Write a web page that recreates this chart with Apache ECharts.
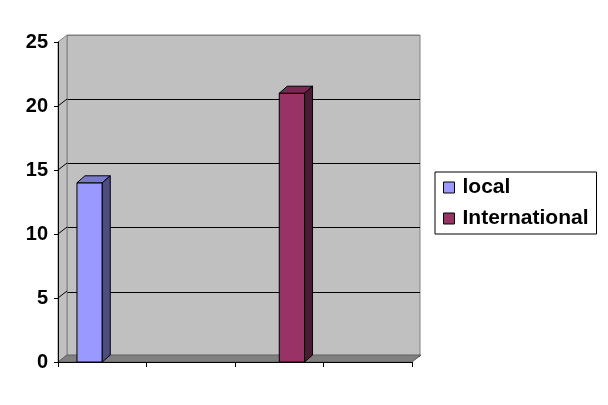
<!DOCTYPE html>
<html>
<head>
<meta charset="utf-8">
<script src="https://cdn.jsdelivr.net/npm/echarts@6/dist/echarts.min.js"></script>
<style>
  html, body { margin: 0; padding: 0; background: #fff; }
  #chart { width: 608px; height: 405px; }
</style>
</head>
<body>
<div id="chart"></div>
<script>
// chart data
var categories = ['A', 'B', 'C', 'D'];
var local = [14, null, null, null];
var international = [null, null, 21, null];
var yTicks = [0, 5, 10, 15, 20, 25];

var DX = 9, DY = -7;     // wall depth
var BDX = 8, BDY = -7;   // bar depth

var myChart = echarts.init(document.getElementById('chart'));

function barRenderer(slot, front, top, side) {
    return function (params, api) {
        var v = api.value(1);
        if (v == null || isNaN(v)) return;
        var topPt = api.coord([api.value(0), v]);
        var basePt = api.coord([api.value(0), 0]);
        var catW = api.size([1, 0])[0];
        var w = catW / 3.5;
        var xL = slot === 0 ? topPt[0] - w : topPt[0];
        var yT = topPt[1], yB = basePt[1];
        var st = { stroke: '#000', lineWidth: 1 };
        return {
            type: 'group',
            children: [
                { type: 'rect', shape: { x: xL, y: yT, width: w, height: yB - yT },
                  style: Object.assign({ fill: front }, st) },
                { type: 'polygon', shape: { points: [[xL, yT], [xL + w, yT], [xL + w + BDX, yT + BDY], [xL + BDX, yT + BDY]] },
                  style: Object.assign({ fill: top }, st) },
                { type: 'polygon', shape: { points: [[xL + w, yT], [xL + w + BDX, yT + BDY], [xL + w + BDX, yB + BDY], [xL + w, yB]] },
                  style: Object.assign({ fill: side }, st) }
            ]
        };
    };
}

// side wall + floor, placed from the front axes
function frameRenderer(params, api) {
    var catW = api.size([1, 0])[0];
    var c0 = api.coord([0, 0]);
    var x0 = c0[0] - catW / 2;
    var x1 = x0 + catW * categories.length;
    var yB = c0[1];
    var yT = api.coord([0, yTicks[yTicks.length - 1]])[1];
    var children = [
        { type: 'polygon', shape: { points: [[x0, yB], [x0, yT], [x0 + DX, yT + DY], [x0 + DX, yB + DY]] },
          style: { fill: '#c0c0c0', stroke: '#808080', lineWidth: 1 } }
    ];
    for (var i = 1; i < yTicks.length - 1; i++) {
        var y = api.coord([0, yTicks[i]])[1];
        children.push({ type: 'line', shape: { x1: x0, y1: y, x2: x0 + DX, y2: y + DY },
            style: { stroke: '#000', lineWidth: 1 } });
    }
    children.push({ type: 'polygon', shape: { points: [[x0, yB], [x1, yB], [x1 + DX, yB + DY], [x0 + DX, yB + DY]] },
        style: { fill: '#808080', stroke: '#606060', lineWidth: 1 } });
    return { type: 'group', children: children };
}

var option = {
    backgroundColor: '#fff',
    animation: false,
    textStyle: { fontFamily: 'Liberation Sans, Arial, sans-serif' },
    grid: [
        { left: 58, right: 196, top: 42, bottom: 43 },
        { left: 67, right: 188, top: 35, bottom: 49, show: true,
          backgroundColor: '#c0c0c0', borderColor: '#808080', borderWidth: 1 }
    ],
    legend: {
        data: ['local', 'International'],
        orient: 'vertical',
        left: 435,
        top: 172,
        padding: [5, 8, 5, 8],
        itemGap: 10,
        itemWidth: 11,
        itemHeight: 11,
        icon: 'rect',
        borderColor: '#000',
        borderWidth: 1,
        itemStyle: { borderColor: '#000', borderWidth: 1 },
        textStyle: { fontSize: 21, fontWeight: 'bold', color: '#000',
            fontFamily: 'Liberation Sans, Arial, sans-serif', padding: [0, 0, 0, 3] }
    },
    xAxis: [
        { type: 'category', gridIndex: 0, data: categories, boundaryGap: true, z: 5,
          axisLine: { show: true, lineStyle: { color: '#000', width: 1 } },
          axisTick: { show: true, interval: 0, length: 5, lineStyle: { color: '#000' } },
          axisLabel: { show: false },
          splitLine: { show: false } },
        { type: 'category', gridIndex: 1, data: categories, show: false }
    ],
    yAxis: [
        { type: 'value', gridIndex: 0, min: 0, max: 25, interval: 5, z: 5,
          axisLine: { show: true, lineStyle: { color: '#000', width: 1 } },
          axisTick: { show: true, length: 4, lineStyle: { color: '#000' } },
          axisLabel: { color: '#000', fontSize: 20, fontWeight: 'bold', margin: 10,
              fontFamily: 'Liberation Sans, Arial, sans-serif' },
          splitLine: { show: false } },
        { type: 'value', gridIndex: 1, min: 0, max: 25, interval: 5,
          axisLine: { show: false }, axisTick: { show: false }, axisLabel: { show: false },
          splitLine: { show: true, lineStyle: { color: ['#000', '#000', '#000', '#000', '#000', '#808080'], width: 1 } } }
    ],
    series: [
        { type: 'custom', name: 'frame', xAxisIndex: 0, yAxisIndex: 0, z: 1, silent: true, clip: false,
          renderItem: frameRenderer, data: [[0, 0]] },
        { type: 'custom', name: 'local', xAxisIndex: 0, yAxisIndex: 0, z: 3, clip: false,
          itemStyle: { color: '#9999ff' },
          renderItem: barRenderer(0, '#9999ff', '#7a7acc', '#4d4d80'),
          encode: { x: 0, y: 1 },
          data: local.map(function (v, i) { return [i, v]; }) },
        { type: 'custom', name: 'International', xAxisIndex: 0, yAxisIndex: 0, z: 3, clip: false,
          itemStyle: { color: '#993366' },
          renderItem: barRenderer(1, '#993366', '#7a2952', '#4d1a33'),
          encode: { x: 0, y: 1 },
          data: international.map(function (v, i) { return [i, v]; }) }
    ]
};
myChart.setOption(option);
</script>
</body>
</html>
